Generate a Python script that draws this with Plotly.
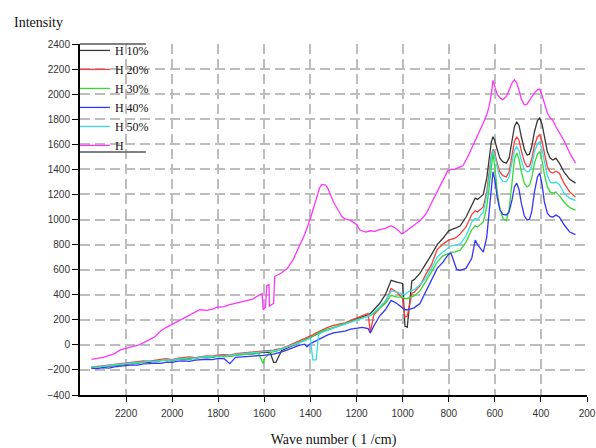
import plotly.graph_objects as go

# Shared wave-number grid for the H xx% spectra
wave = [2350, 2325, 2300, 2275, 2250, 2225, 2200, 2175, 2150, 2125,
        2100, 2075, 2050, 2025, 2000, 1975, 1950, 1925, 1900, 1875,
        1850, 1825, 1800, 1775, 1750, 1725, 1700, 1675, 1650, 1625,
        1605, 1600, 1575, 1560, 1550, 1525, 1500,
        1475, 1450, 1425, 1415, 1400, 1390, 1375, 1365, 1350, 1325,
        1300, 1275, 1250, 1225, 1200, 1175, 1150, 1140, 1125, 1100,
        1075, 1050, 1025, 1000, 990, 980, 960, 950, 925, 900,
        875, 850, 825, 800, 790, 775, 765, 750, 725, 700,
        685, 675,
        650, 635, 625, 615, 608, 600, 590, 578, 565, 550,
        538, 525, 515, 505, 495, 485, 472, 460, 450, 440,
        428, 415, 405, 395, 385, 372, 360, 348, 335, 320,
        300, 275, 250]

h10 = [-185, -178, -182, -170, -165, -160, -152, -150, -140, -135,
       -142, -128, -125, -118, -126, -112, -115, -105, -110, -98,
       -95, -100, -88, -85, -92, -80, -75, -70, -72, -62,
       -60, -58, -60, -140, -140, -45, -25,
       -5, 15, 35, 45, 60, 70, 85, 95, 105, 120,
       135, 150, 170, 190, 210, 225, 240, 250, 280, 330,
       400, 515, 500, 490, 150, 140, 510, 520, 570, 640,
       720, 800, 850, 910, 920, 930, 935, 950, 1020, 1120,
       1170, 1160,
       1200, 1330, 1480, 1620, 1660, 1630, 1560, 1490, 1460, 1450,
       1490, 1620, 1740, 1780, 1750, 1660, 1560, 1515, 1520, 1580,
       1700, 1790, 1810, 1760, 1650, 1540, 1490, 1475, 1490, 1450,
       1380, 1320, 1290]

h20 = [-178, -172, -168, -160, -155, -148, -145, -140, -132, -128,
       -130, -120, -115, -110, -118, -105, -100, -96, -102, -92,
       -88, -90, -80, -78, -82, -70, -66, -62, -60, -52,
       -50, -48, -45, -42, -38, -28, -10,
       10, 30, 50, 55, 70, 80, 95, 105, 120, 140,
       155, 165, 175, 195, 215, 235, 250, 100, 240, 290,
       340, 450, 420, 370, 220, 230, 410, 420, 470, 560,
       640, 760, 805, 835, 840, 850, 860, 885, 940, 1040,
       1070, 1060,
       1100, 1220, 1370, 1510, 1560, 1530, 1450, 1380, 1350, 1340,
       1380, 1500, 1620, 1660, 1630, 1550, 1460, 1420, 1425, 1480,
       1590, 1660, 1675, 1620, 1520, 1420, 1380, 1370, 1385, 1370,
       1290, 1220, 1180]

h30 = [-175, -182, -176, -168, -160, -162, -150, -146, -150, -138,
       -132, -135, -125, -120, -130, -115, -112, -118, -106, -100,
       -104, -96, -92, -95, -88, -84, -80, -76, -74, -68,
       -150, -110, -62, -56, -52, -35, -15,
       5, 20, 40, 45, 60, 70, 85, 95, 110, 125,
       140, 150, 165, 185, 200, 215, 225, 235, 255, 290,
       330, 395, 380, 380, 370, 370, 380, 390, 430, 500,
       580, 660, 710, 730, 740, 740, 745, 755, 820, 920,
       950, 940,
       980, 1100, 1250, 1450, 1530, 1420, 1230, 1080, 1010, 990,
       1080, 1300, 1480, 1530, 1480, 1380, 1290, 1260, 1270, 1330,
       1450, 1520, 1540, 1470, 1360, 1260, 1220, 1210, 1220, 1190,
       1140, 1095, 1075]

h40 = [-188, -190, -182, -185, -175, -170, -168, -160, -162, -152,
       -150, -145, -148, -138, -140, -130, -128, -132, -122, -118,
       -115, -118, -108, -110, -150, -100, -95, -92, -90, -86,
       -84, -82, -78, -74, -70, -56, -40,
       -20, -5, 5, -15, 10, 20, 35, 45, 60, 80,
       95, 100, 110, 125, 135, 140, 130, 95, 150, 230,
       280, 355, 330, 290, 280, 280, 290, 295, 330, 420,
       520, 610, 660, 725, 730, 660, 600, 595, 610, 690,
       836, 800,
       740, 860, 1050, 1300, 1380, 1320, 1180, 1080, 1040, 1036,
       1060, 1160, 1260, 1290, 1240, 1130, 1030, 996, 1000, 1060,
       1220, 1340, 1370, 1280, 1140, 1050, 1025, 1020, 1035, 1020,
       960, 900, 880]

h50 = [-172, -180, -170, -165, -158, -150, -148, -142, -140, -136,
       -130, -132, -125, -118, -122, -112, -110, -104, -108, -98,
       -95, -92, -90, -84, -86, -76, -72, -70, -68, -62,
       -58, -56, -52, -48, -45, -32, -18,
       0, 15, 30, 40, 55, -120, -120, 80, 100, 120,
       135, 150, 165, 180, 195, 210, 225, 235, 260, 300,
       350, 430, 420, 410, 400, 420, 430, 440, 480, 530,
       610, 700, 740, 780, 790, 795, 800, 805, 870, 980,
       1010, 1000,
       1060, 1190, 1330, 1500, 1550, 1510, 1420, 1340, 1305, 1300,
       1340, 1450, 1550, 1580, 1550, 1470, 1400, 1380, 1385, 1430,
       1540, 1605, 1620, 1560, 1460, 1350, 1300, 1290, 1300, 1280,
       1210, 1170, 1150]

# Pure H spectrum (own wave-number grid)
wave_h = [2350, 2325, 2300, 2275, 2250, 2225, 2200, 2175, 2150, 2125,
          2100, 2075, 2050, 2025, 2000, 1975, 1950, 1925, 1900, 1880,
          1850, 1825, 1806, 1775, 1750, 1725, 1700, 1675, 1650, 1625,
          1610, 1605, 1595, 1590, 1580, 1578, 1560, 1555, 1525, 1500,
          1475, 1450, 1425, 1400, 1385, 1372, 1360, 1350, 1335, 1325,
          1300, 1275, 1263, 1250, 1228, 1200, 1185, 1160, 1140, 1120,
          1100, 1075, 1050, 1030, 1003, 990, 975, 950, 938, 925,
          900, 869, 850, 825, 804, 790, 775, 750, 738, 720,
          700, 678, 660,
          650, 635, 625, 615, 608, 600, 590, 578, 565, 550,
          538, 525, 515, 505, 495, 485, 472, 460, 450, 440,
          428, 415, 405, 395, 385, 372, 360, 348, 335, 320,
          300, 275, 250]

h_pure = [-115, -110, -100, -85, -70, -40, -25, -15, -5, 15,
          40, 65, 110, 140, 165, 185, 215, 235, 260, 280,
          275, 285, 300, 305, 320, 330, 340, 355, 365, 395,
          410, 280, 300, 470, 480, 310, 330, 545, 575, 610,
          680, 780, 880, 1010, 1100, 1180, 1255, 1280, 1275, 1250,
          1140, 1060, 1020, 1005, 995, 960, 916, 900, 910, 905,
          920, 930, 950, 930, 885, 900, 920, 960, 975, 990,
          1040, 1156, 1230, 1320, 1390, 1400, 1400, 1420, 1430, 1490,
          1570, 1659, 1720,
          1770, 1835, 1900, 2000, 2110, 2060, 2000, 1970, 1955, 1980,
          2030, 2090, 2115, 2090, 2030, 1960, 1915, 1920, 1950, 1980,
          2010, 2035, 2040, 1990, 1920, 1850, 1810, 1790, 1740, 1690,
          1630, 1530, 1450]

for s in (h10, h20, h30, h40, h50):
    assert len(s) == len(wave), (len(s), len(wave))
assert len(h_pure) == len(wave_h), (len(h_pure), len(wave_h))

series_names = ["H 10%", "H 20%", "H 30%", "H 40%", "H 50%", "H"]
series_colors = ["#383838", "#ff3a3a", "#36d836", "#3434ff", "#34e0e0", "#ff34ff"]

y_ticks = list(range(-400, 2401, 200))
x_ticks = list(range(2200, 199, -200))

fig = go.Figure()
for name, color, ys in zip(series_names[:5], series_colors[:5], [h10, h20, h30, h40, h50]):
    fig.add_trace(go.Scatter(x=wave, y=ys, mode="lines", name=name,
                             line=dict(color=color, width=1.3)))
fig.add_trace(go.Scatter(x=wave_h, y=h_pure, mode="lines", name=series_names[5],
                         line=dict(color=series_colors[5], width=1.3)))

grid_dash = "10px,5px"
fig.update_layout(
    width=596, height=448,
    margin=dict(l=80, r=9, t=44, b=53, autoexpand=False),
    paper_bgcolor="white", plot_bgcolor="white",
    showlegend=True,
    legend=dict(x=-0.01, y=1.023, xanchor="left", yanchor="top",
                bgcolor="rgba(0,0,0,0)", borderwidth=0,
                font=dict(family="Liberation Serif", size=12, color="#111")),
    xaxis=dict(range=[2400, 200], tickvals=x_ticks, automargin=False,
               showgrid=True, gridcolor="#bdbdbd", gridwidth=1.5, griddash=grid_dash,
               showline=True, linecolor="black", linewidth=1.5,
               ticks="outside", ticklen=5, tickcolor="black",
               ticklabelstandoff=3,
               tickfont=dict(family="Liberation Sans", size=10, color="#333"),
               zeroline=False,
               title=dict(text="Wave number ( 1 /cm)", standoff=21,
                          font=dict(family="Liberation Serif", size=14, color="#111"))),
    yaxis=dict(range=[-400, 2400], tickvals=y_ticks, automargin=False,
               showgrid=True, gridcolor="#bdbdbd", gridwidth=1.5, griddash=grid_dash,
               showline=True, linecolor="black", linewidth=2,
               ticks="outside", ticklen=6, tickcolor="black",
               tickfont=dict(family="Liberation Sans", size=10, color="#333"),
               zeroline=False),
    annotations=[dict(text="Intensity", xref="paper", yref="paper",
                      x=-0.134, y=1.06, xanchor="left", yanchor="middle",
                      showarrow=False,
                      font=dict(family="Liberation Serif", size=14, color="#111"))],
    shapes=[
        dict(type="line", xref="paper", yref="paper", x0=0, x1=0.13, y0=1, y1=1,
             line=dict(color="#808080", width=2)),
        dict(type="line", xref="paper", yref="paper", x0=0, x1=0.13, y0=0.692, y1=0.692,
             line=dict(color="#808080", width=2)),
    ],
)

fig.write_html("out.html")
